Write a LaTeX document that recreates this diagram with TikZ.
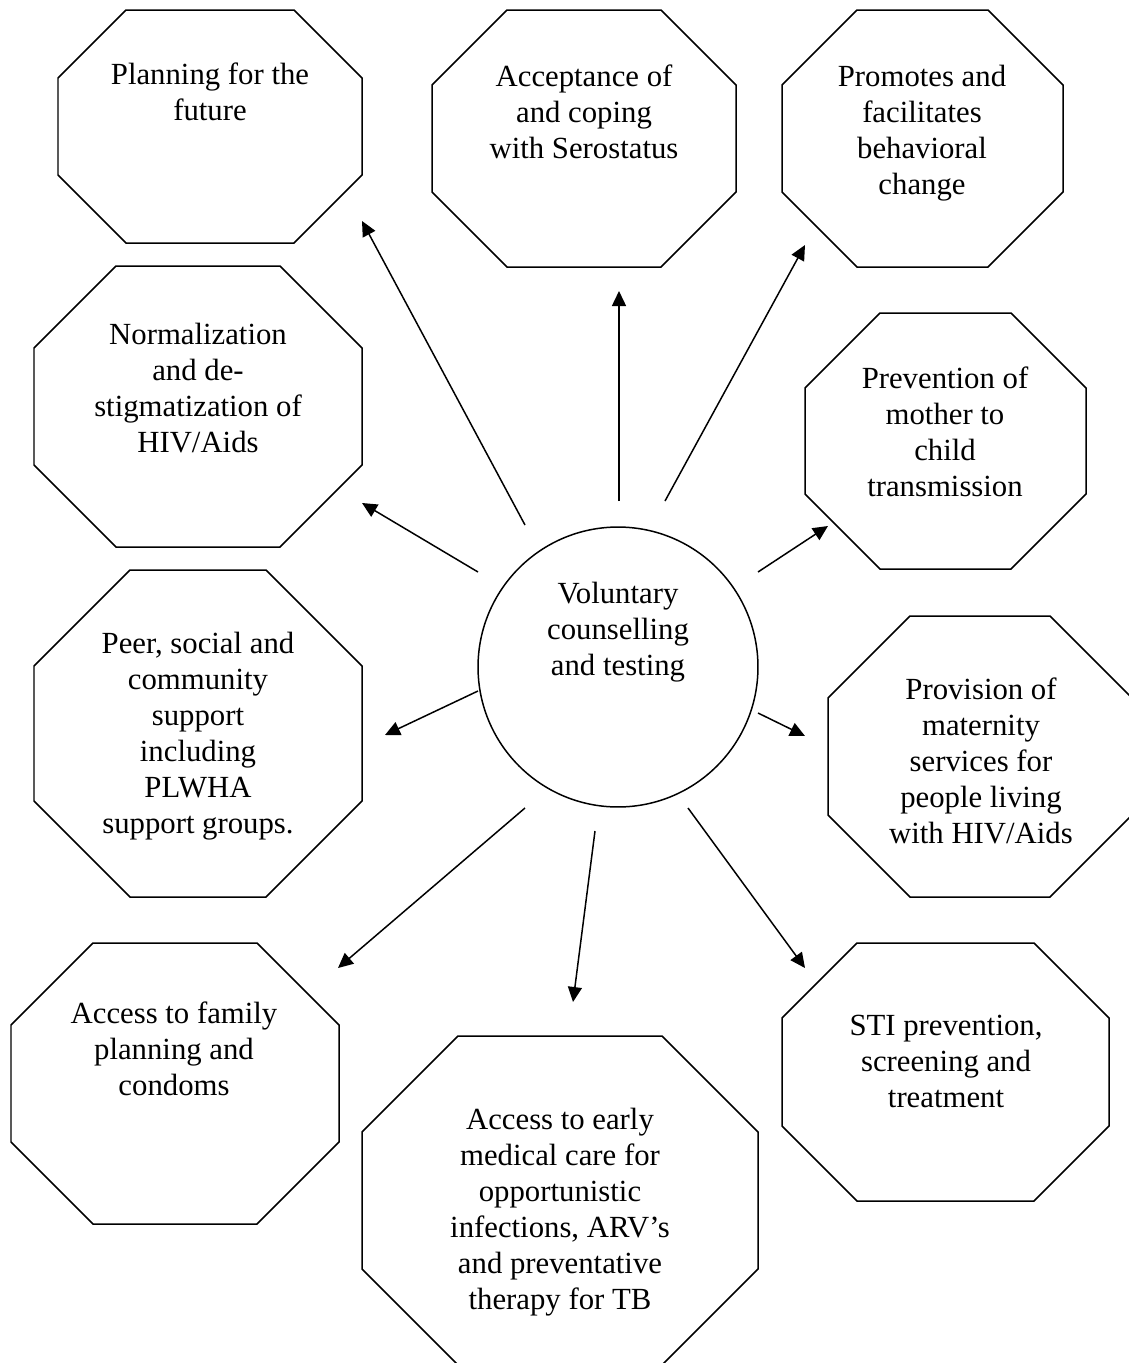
\documentclass[tikz,border=0pt]{standalone}
\usepackage{fontspec}
\setmainfont{Liberation Serif}
\usetikzlibrary{arrows.meta}

% left, top, right, bottom, corner cut
\newcommand{\octagon}[5]{%
  \draw (#1+#5,#2) -- (#3-#5,#2) -- (#3,#2+#5) -- (#3,#4-#5) -- (#3-#5,#4)
    -- (#1+#5,#4) -- (#1,#4-#5) -- (#1,#2+#5) -- cycle;}

\begin{document}
\begin{tikzpicture}[x=0.02cm,y=-0.02cm,line width=0.85pt,
    lbl/.style={anchor=north,align=center,inner sep=0pt,
      font=\fontsize{17.5}{20.5}\selectfont},
    hub/.style={draw,circle,inner sep=0pt,minimum size=5.6cm},
    arr/.style={-{Triangle[length=0.3cm,width=0.28cm]}}]
  \useasboundingbox (0,0) rectangle (1129,1363);

  \node (vct) at (618,667) [hub] {};
  \node (vcttext) at (618,581) [lbl] {Voluntary\\counselling\\and testing};

  \octagon{58}{10}{362}{243}{68}
  \node (plan) at (210,62) [lbl] {Planning for the\\future};
  \octagon{432}{10}{736}{267}{75}
  \node (accept) at (584,64) [lbl] {Acceptance of\\and coping\\with Serostatus};
  \octagon{782}{10}{1063}{267}{75}
  \node (promote) at (922,64) [lbl] {Promotes and\\facilitates\\behavioral\\change};

  \octagon{34}{266}{362}{547}{82}
  \node (norm) at (198,322) [lbl] {Normalization\\and de-\\stigmatization of\\HIV/Aids};
  \octagon{805}{313}{1086}{569}{75}
  \node (prevent) at (945,366) [lbl] {Prevention of\\mother to\\child\\transmission};

  \octagon{34}{570}{362}{897}{96}
  \node (peer) at (198,631) [lbl] {Peer, social and\\community\\support\\including\\PLWHA\\support groups.};
  \octagon{828}{616}{1132}{897}{82}
  \node (provide) at (981,677) [lbl] {Provision of\\maternity\\services for\\people living\\with HIV/Aids};

  \octagon{11}{943}{339}{1224}{82}
  \node (family) at (174,1001) [lbl] {Access to family\\planning and\\condoms};
  \octagon{362}{1036}{758}{1365}{96}
  \node (early) at (560,1107) [lbl] {Access to early\\medical care for\\opportunistic\\infections, ARV’s\\and preventative\\therapy for TB};
  \octagon{782}{943}{1109}{1201}{75}
  \node (sti) at (946,1014) [lbl] {STI prevention,\\screening and\\treatment};

  \coordinate (p1) at (525,525);  \coordinate (q1) at (362,221);
  \coordinate (p2) at (619,501);  \coordinate (q2) at (619,291);
  \coordinate (p3) at (665,501);  \coordinate (q3) at (805,245);
  \coordinate (p4) at (478,572);  \coordinate (q4) at (362,503);
  \coordinate (p5) at (758,572);  \coordinate (q5) at (828,526);
  \coordinate (p6) at (478,691);  \coordinate (q6) at (385,735);
  \coordinate (p7) at (758,713);  \coordinate (q7) at (805,736);
  \coordinate (p8) at (525,808);  \coordinate (q8) at (338,968);
  \coordinate (p9) at (595,831);  \coordinate (q9) at (573,1002);
  \coordinate (p10) at (688,808); \coordinate (q10) at (805,968);

  \draw[arr] (p1) -- (q1);
  \draw[arr] (p2) -- (q2);
  \draw[arr] (p3) -- (q3);
  \draw[arr] (p4) -- (q4);
  \draw[arr] (p5) -- (q5);
  \draw[arr] (p6) -- (q6);
  \draw[arr] (p7) -- (q7);
  \draw[arr] (p8) -- (q8);
  \draw[arr] (p9) -- (q9);
  \draw[arr] (p10) -- (q10);
\end{tikzpicture}
\end{document}
